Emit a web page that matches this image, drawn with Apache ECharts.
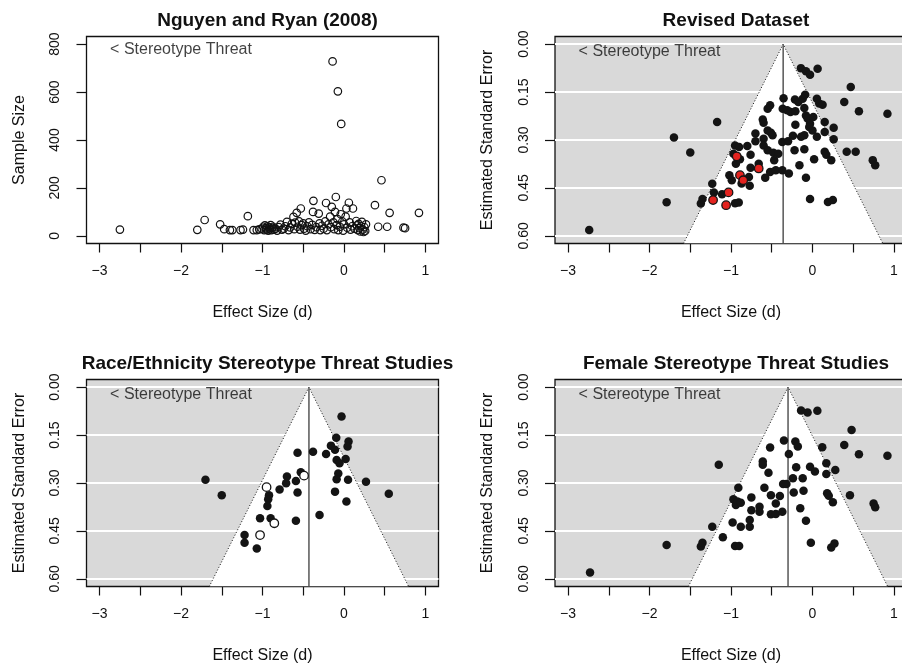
<!DOCTYPE html>
<html>
<head>
<meta charset="utf-8">
<script src="https://cdn.jsdelivr.net/npm/echarts@6.0.0/dist/echarts.min.js"></script>
<style>
  html, body { margin: 0; padding: 0; background: #fff; }
  #main { width: 902px; height: 666px; }
</style>
</head>
<body>
<div id="main"></div>
<script>
// axis ticks
const xTickValues = [-3, -2.5, -2, -1.5, -1, -0.5, 0, 0.5, 1]
const xLabelValues = [-3, -2, -1, 0, 1]
const nTickValues = [0, 200, 400, 600, 800]
const seTickValues = [0, 0.15, 0.3, 0.45, 0.6]

// Nguyen and Ryan (2008): [effect size, sample size]
const nguyenPoints = [
  [-2.75, 26], [-1.80, 25], [-1.71, 66], [-1.52, 48], [-1.47, 28], [-1.40, 24], [-1.37, 24],
  [-1.27, 24], [-1.24, 26], [-1.18, 82], [-1.11, 24], [-1.07, 24], [-1.04, 27],
  [-1.01, 30], [-0.99, 38], [-0.98, 24], [-0.97, 44], [-0.96, 32], [-0.95, 26], [-0.94, 40],
  [-0.93, 22], [-0.92, 35], [-0.91, 28], [-0.90, 45], [-0.89, 24], [-0.88, 33], [-0.87, 38],
  [-0.86, 26], [-0.84, 30], [-0.82, 22], [-0.80, 36],
  [-0.78, 47], [-0.76, 26], [-0.74, 30], [-0.72, 40], [-0.70, 58], [-0.68, 24], [-0.66, 35],
  [-0.64, 50], [-0.62, 79], [-0.61, 28], [-0.60, 55], [-0.58, 96], [-0.57, 38], [-0.55, 60],
  [-0.54, 26], [-0.53, 114], [-0.52, 45], [-0.50, 52], [-0.49, 30], [-0.47, 22], [-0.45, 40],
  [-0.43, 56], [-0.41, 28], [-0.39, 46], [-0.38, 100], [-0.375, 146], [-0.36, 25], [-0.34, 36],
  [-0.31, 93], [-0.30, 52], [-0.29, 24], [-0.27, 42], [-0.25, 30], [-0.23, 60], [-0.22, 137],
  [-0.21, 24], [-0.19, 48], [-0.17, 80], [-0.16, 36], [-0.15, 121], [-0.14, 728], [-0.13, 56],
  [-0.12, 28], [-0.11, 100], [-0.10, 162], [-0.09, 45], [-0.08, 70], [-0.075, 603], [-0.07, 24],
  [-0.05, 38], [-0.04, 90], [-0.034, 467], [-0.02, 60], [-0.01, 22], [0.0, 48], [0.02, 80],
  [0.03, 114], [0.04, 34], [0.06, 138], [0.07, 56], [0.08, 26], [0.10, 40], [0.11, 114],
  [0.13, 30], [0.15, 62], [0.16, 44], [0.17, 24], [0.18, 50], [0.19, 32], [0.20, 18],
  [0.21, 40], [0.22, 58], [0.23, 26], [0.24, 16], [0.25, 36], [0.26, 20], [0.27, 48],
  [0.38, 128], [0.42, 38], [0.46, 232], [0.53, 38], [0.56, 96], [0.73, 34], [0.75, 32], [0.92, 96]
]

// Revised dataset: [effect size, standard error]
const revisedPoints = [
  [-2.74, 0.582], [-1.79, 0.495], [-1.70, 0.292], [-1.50, 0.339], [-1.17, 0.244],
  [-1.37, 0.499], [-1.35, 0.485], [-1.23, 0.437], [-1.21, 0.464], [-1.11, 0.470],
  [-1.02, 0.41], [-0.99, 0.426], [-0.95, 0.498], [-0.905, 0.496], [-0.87, 0.436],
  [-0.78, 0.416], [-0.77, 0.443], [-0.95, 0.317], [-0.97, 0.343], [-0.90, 0.322],
  [-0.94, 0.374], [-0.89, 0.36], [-0.80, 0.319], [-0.76, 0.346], [-0.76, 0.387],
  [-0.66, 0.374], [-0.70, 0.28], [-0.70, 0.304], [-0.61, 0.236], [-0.60, 0.246],
  [-0.60, 0.296], [-0.60, 0.317], [-0.55, 0.332], [-0.48, 0.34], [-0.42, 0.343],
  [-0.58, 0.418], [-0.52, 0.40], [-0.45, 0.395], [-0.37, 0.395], [-0.29, 0.405],
  [-0.47, 0.363], [-0.55, 0.27], [-0.51, 0.277], [-0.49, 0.285], [-0.52, 0.191],
  [-0.55, 0.202], [-0.37, 0.306], [-0.30, 0.304], [-0.24, 0.287], [-0.355, 0.169],
  [-0.365, 0.202], [-0.31, 0.207], [-0.27, 0.212], [-0.21, 0.21], [-0.215, 0.173],
  [-0.174, 0.181], [-0.12, 0.171], [-0.09, 0.158], [-0.142, 0.075], [-0.08, 0.085],
  [-0.03, 0.096], [0.063, 0.077], [0.054, 0.171], [0.083, 0.186], [0.124, 0.19],
  [-0.10, 0.20], [-0.08, 0.223], [-0.21, 0.252], [-0.06, 0.233], [-0.03, 0.249],
  [-0.04, 0.259], [0.0, 0.27], [0.01, 0.228], [0.15, 0.244], [0.26, 0.262],
  [0.15, 0.275], [0.054, 0.29], [0.26, 0.298], [-0.10, 0.285], [-0.14, 0.29],
  [-0.22, 0.332], [-0.10, 0.329], [-0.16, 0.379], [-0.08, 0.418], [0.02, 0.36],
  [0.15, 0.337], [0.17, 0.346], [0.23, 0.363], [0.42, 0.337], [0.53, 0.337],
  [0.74, 0.363], [0.77, 0.379], [0.39, 0.181], [0.47, 0.134], [0.57, 0.21],
  [0.92, 0.218], [-0.03, 0.485], [0.19, 0.494], [0.25, 0.488]
]
const revisedRed = [
  [-0.93, 0.351], [-0.66, 0.389], [-0.89, 0.41], [-0.85, 0.426], [-1.03, 0.464],
  [-1.22, 0.488], [-1.06, 0.504]
]

// Race/Ethnicity studies
const racePoints = [
  [-1.70, 0.29], [-1.50, 0.338], [-0.03, 0.092], [-0.095, 0.158], [-0.16, 0.183],
  [-0.11, 0.196], [-0.09, 0.228], [0.056, 0.17], [0.044, 0.186], [-0.22, 0.209],
  [0.02, 0.225], [-0.055, 0.238], [-0.07, 0.27], [-0.09, 0.288], [0.05, 0.29],
  [0.27, 0.296], [0.55, 0.334], [-0.11, 0.327], [0.03, 0.358], [-0.30, 0.40],
  [-0.57, 0.205], [-0.38, 0.202], [-0.53, 0.266], [-0.70, 0.28], [-0.71, 0.301],
  [-0.59, 0.294], [-0.79, 0.32], [-0.57, 0.33], [-0.92, 0.338], [-0.93, 0.351],
  [-0.94, 0.372], [-1.03, 0.41], [-0.90, 0.41], [-0.59, 0.418], [-1.22, 0.463],
  [-1.22, 0.487], [-1.07, 0.505]
]
const raceOpen = [[-0.49, 0.277], [-0.95, 0.313], [-0.855, 0.426], [-1.03, 0.463]]

// Female studies
const femalePoints = [
  [-2.73, 0.58], [-1.79, 0.494], [-1.37, 0.499], [-1.35, 0.487], [-1.23, 0.437],
  [-1.10, 0.47], [-1.15, 0.243], [-0.95, 0.497], [-0.90, 0.497], [-0.98, 0.424],
  [-0.88, 0.437], [-0.77, 0.437], [-0.77, 0.416], [-0.91, 0.315], [-0.97, 0.351],
  [-0.94, 0.369], [-0.92, 0.358], [-0.88, 0.362], [-0.75, 0.345], [-0.75, 0.385],
  [-0.65, 0.374], [-0.65, 0.39], [-0.61, 0.233], [-0.61, 0.243], [-0.59, 0.315],
  [-0.54, 0.268], [-0.52, 0.189], [-0.51, 0.338], [-0.51, 0.398], [-0.45, 0.397],
  [-0.37, 0.39], [-0.45, 0.364], [-0.40, 0.341], [-0.36, 0.303], [-0.32, 0.303],
  [-0.35, 0.167], [-0.29, 0.209], [-0.23, 0.33], [-0.24, 0.285], [-0.21, 0.17],
  [-0.18, 0.186], [-0.20, 0.251], [-0.15, 0.379], [-0.14, 0.073], [-0.06, 0.079],
  [0.06, 0.074], [-0.12, 0.285], [-0.11, 0.324], [-0.08, 0.418], [-0.03, 0.249],
  [0.03, 0.264], [-0.02, 0.487], [0.12, 0.188], [0.17, 0.238], [0.17, 0.272],
  [0.18, 0.332], [0.20, 0.34], [0.25, 0.36], [0.28, 0.259], [0.23, 0.502],
  [0.27, 0.489], [0.39, 0.181], [0.48, 0.134], [0.57, 0.21], [0.46, 0.338],
  [0.75, 0.364], [0.77, 0.376], [0.92, 0.215]
]

// funnel centres (mean effect) for revised, race, female
const funnelCentres = [-0.36, -0.43, -0.30]
const Z = 1.96

const FONT = 'Liberation Sans, Arial, Helvetica, sans-serif'
const INK = '#111'
const xRange = [-3.16, 1.16]
const nRange = [-32, 832]
const seRange = [-0.024, 0.624]

const titles = ['Nguyen and Ryan (2008)', 'Revised Dataset', 'Race/Ethnicity Stereotype Threat Studies', 'Female Stereotype Threat Studies']
const gridPos = [
  { left: 86.5, top: 36.5 },
  { left: 555, top: 36.5 },
  { left: 86.5, top: 379.5 },
  { left: 555, top: 379.5 }
]
const boxW = 352
const boxH = 207

const minus = v => (v < 0 ? '\u2212' + Math.abs(v) : String(v))

const grids = gridPos.map((p, i) => ({
  left: p.left,
  top: p.top,
  width: boxW,
  height: boxH,
  show: true,
  backgroundColor: i === 0 ? '#fff' : '#d9d9d9',
  borderColor: INK,
  borderWidth: 1.3,
  containLabel: false,
  outerBoundsMode: 'none'
}))

const xAxes = gridPos.map((p, i) => ({
  gridIndex: i,
  type: 'value',
  min: xRange[0],
  max: xRange[1],
  position: 'bottom',
  axisLine: { show: false, onZero: false },
  axisTick: { show: true, length: 9, customValues: xTickValues, lineStyle: { color: INK, width: 1.2 } },
  axisLabel: { customValues: xLabelValues, formatter: minus, margin: 21, fontSize: 14, color: INK, fontFamily: FONT },
  splitLine: { show: false },
  name: 'Effect Size (d)',
  nameLocation: 'middle',
  nameGap: 61,
  nameTextStyle: { fontSize: 16, color: INK, fontFamily: FONT }
}))

const yAxes = gridPos.map((p, i) => {
  const first = i === 0
  return {
    gridIndex: i,
    type: 'value',
    min: first ? nRange[0] : seRange[0],
    max: first ? nRange[1] : seRange[1],
    inverse: !first,
    position: 'left',
    axisLine: { show: false, onZero: false },
    axisTick: { show: true, length: 10, customValues: first ? nTickValues : seTickValues, lineStyle: { color: INK, width: 1.2 } },
    axisLabel: {
      customValues: first ? nTickValues : seTickValues,
      formatter: v => (first ? String(v) : v.toFixed(2)),
      rotate: 90,
      margin: 24,
      fontSize: 14,
      color: INK,
      fontFamily: FONT
    },
    splitLine: { show: !first, lineStyle: { color: '#fff', width: 1.8 } },
    name: first ? 'Sample Size' : 'Estimated Standard Error',
    nameLocation: 'middle',
    nameRotate: 90,
    nameGap: 59,
    nameTextStyle: { fontSize: 16, color: INK, fontFamily: FONT }
  }
})

// "< Stereotype Threat" note at the top-left of each panel
const noteSeries = (i, y) => ({
  type: 'scatter',
  xAxisIndex: i,
  yAxisIndex: i,
  silent: true,
  symbolSize: 1,
  itemStyle: { color: 'rgba(0,0,0,0)' },
  data: [[-2.0, y]],
  label: {
    show: true,
    position: 'inside',
    formatter: () => '< Stereotype Threat',
    fontSize: 16,
    color: INK,
    fontFamily: FONT
  },
  z: 5
})

const series = [
  {
    type: 'scatter',
    xAxisIndex: 0,
    yAxisIndex: 0,
    symbol: 'circle',
    symbolSize: 7.5,
    itemStyle: { color: 'rgba(0,0,0,0)', borderColor: INK, borderWidth: 1.2, opacity: 1 },
    data: nguyenPoints
  },
  noteSeries(0, 778)
]

const funnelPoints = [revisedPoints, racePoints, femalePoints]
const funnelExtra = [
  { data: revisedRed, color: '#e3231f' },
  { data: raceOpen, color: '#fff' },
  null
]

funnelCentres.forEach((c, k) => {
  const i = k + 1
  const s = seRange[1]
  series.push({
    type: 'custom',
    xAxisIndex: i,
    yAxisIndex: i,
    silent: true,
    clip: true,
    data: [[c, s]],
    renderItem: (params, api) => {
      const mid = api.value(0)
      const se = api.value(1)
      return {
        type: 'polygon',
        shape: { points: [api.coord([mid, 0]), api.coord([mid - Z * se, se]), api.coord([mid + Z * se, se])] },
        style: { fill: '#fff' }
      }
    },
    z: 1
  })
  series.push({
    type: 'line',
    xAxisIndex: i,
    yAxisIndex: i,
    silent: true,
    symbol: 'none',
    clip: true,
    lineStyle: { color: INK, width: 1, type: [1, 2] },
    data: [[c - Z * s, s], [c, 0], [c + Z * s, s]],
    z: 2
  })
  series.push({
    type: 'line',
    xAxisIndex: i,
    yAxisIndex: i,
    silent: true,
    symbol: 'none',
    lineStyle: { color: '#4a4a4a', width: 1.4 },
    data: [[c, 0], [c, s]],
    z: 2
  })
  series.push({
    type: 'scatter',
    xAxisIndex: i,
    yAxisIndex: i,
    symbol: 'circle',
    symbolSize: 8.5,
    itemStyle: { color: '#141414', opacity: 1 },
    data: funnelPoints[k],
    z: 3
  })
  const extra = funnelExtra[k]
  if (extra) {
    series.push({
      type: 'scatter',
      xAxisIndex: i,
      yAxisIndex: i,
      symbol: 'circle',
      symbolSize: 8.5,
      itemStyle: { color: extra.color, borderColor: '#141414', borderWidth: 1.3, opacity: 1 },
      data: extra.data,
      z: 4
    })
  }
  series.push(noteSeries(i, 0.022))
})

const chart = echarts.init(document.getElementById('main'), null, { renderer: 'canvas' })
chart.setOption({
  animation: false,
  backgroundColor: '#fff',
  title: titles.map((t, i) => ({
    text: t,
    left: gridPos[i].left + boxW / 2,
    top: gridPos[i].top - 30,
    textAlign: 'center',
    textStyle: { fontSize: 19, fontWeight: 'bold', color: INK, fontFamily: FONT }
  })),
  grid: grids,
  xAxis: xAxes,
  yAxis: yAxes,
  series: series
})
</script>
</body>
</html>
